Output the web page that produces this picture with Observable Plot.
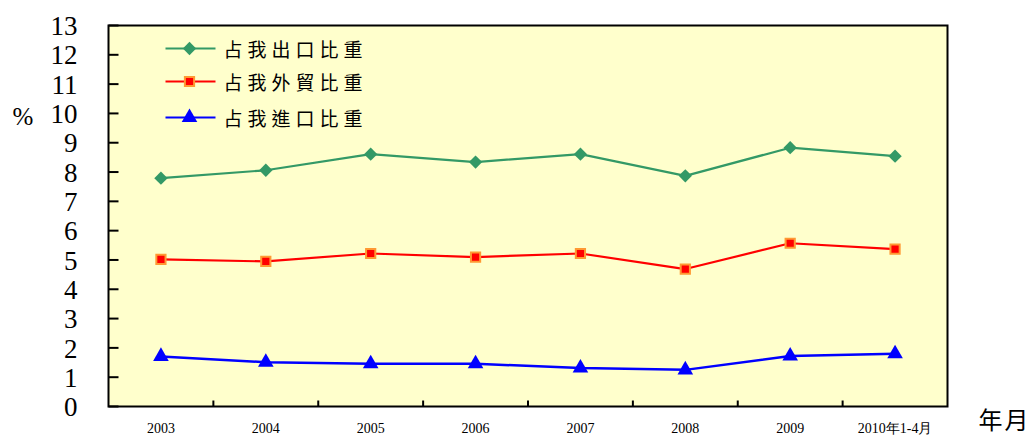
<!DOCTYPE html>
<html><head><meta charset="utf-8">
<script src="https://cdn.jsdelivr.net/npm/d3@7"></script>
<script src="https://cdn.jsdelivr.net/npm/@observablehq/plot@0.6"></script>
<style>
body{margin:0;background:#fff;}
svg{display:block}
</style>
</head><body><div id="chart"></div>
<script>
const years = ["2003","2004","2005","2006","2007","2008","2009","2010年1-4月"];
const seriesNames = ["占我出口比重","占我外貿比重","占我進口比重"];
const exportShare = [7.79, 8.06, 8.61, 8.34, 8.61, 7.87, 8.83, 8.54];
const tradeShare  = [5.02, 4.95, 5.22, 5.10, 5.22, 4.69, 5.57, 5.37];
const importShare = [1.71, 1.51, 1.46, 1.46, 1.31, 1.25, 1.72, 1.80];
const yTicks = [0,1,2,3,4,5,6,7,8,9,10,11,12,13];
const yUnit = "%";
const xUnit = "年月";

const xIdx = years.map((d, i) => i);
const boundaries = xIdx.slice(1).map(i => i - 0.5);

const tickUp = {draw(ctx){ctx.moveTo(0,0); ctx.lineTo(0,-6);}};
const tickRight = {draw(ctx){ctx.moveTo(0,0); ctx.lineTo(10,0);}};
const legendLine = {draw(ctx){ctx.moveTo(-25,0); ctx.lineTo(25,0);}};

const series = [
  {name: seriesNames[0], values: exportShare, color: "#339966", symbol: "diamond2", r: 6, fill: "#339966", stroke: "none", sw: 0, lw: 2.2, row: 23},
  {name: seriesNames[1], values: tradeShare, color: "#FF0000", symbol: "square", r: 5.2, fill: "#FF0000", stroke: "#FF9933", sw: 2, lw: 2.2, row: 56},
  {name: seriesNames[2], values: importShare, color: "#0000FF", symbol: "triangle", r: 5.8, fill: "#0000FF", stroke: "none", sw: 0, lw: 2.5, row: 92}
];

const serif = "'Liberation Serif', 'Times New Roman', serif";
const cjk = "'Noto Sans CJK TC', 'Noto Sans CJK SC', sans-serif";

const marks = [Plot.frame({fill: "#FFFFCC"})];
for (const s of series) {
  marks.push(Plot.line(xIdx, {x: i => i, y: i => s.values[i], stroke: s.color, strokeWidth: s.lw}));
  marks.push(Plot.dot(xIdx, {x: i => i, y: i => s.values[i], symbol: s.symbol, r: s.r, fill: s.fill, stroke: s.stroke, strokeWidth: s.sw}));
  marks.push(Plot.dot([s.name], {frameAnchor: "top-left", dx: 82, dy: s.row, symbol: legendLine, fill: "none", stroke: s.color, strokeWidth: 2}));
  marks.push(Plot.dot([s.name], {frameAnchor: "top-left", dx: 81, dy: s.row, symbol: s.symbol, r: s.r, fill: s.fill, stroke: s.stroke, strokeWidth: s.sw}));
  marks.push(Plot.text([s.name], {frameAnchor: "top-left", dx: 115, dy: s.row + 2, text: d => d, textAnchor: "start", lineAnchor: "middle", fontSize: 19, fontFamily: cjk, fill: "black"}));
}
marks.push(
  Plot.dot(boundaries, {x: d => d, frameAnchor: "bottom", symbol: tickUp, fill: "none", stroke: "black", strokeWidth: 2}),
  Plot.dot(yTicks, {y: d => d, frameAnchor: "left", symbol: tickRight, fill: "none", stroke: "black", strokeWidth: 2}),
  Plot.axisX(xIdx, {tickFormat: i => years[i], tickSize: 0, tickPadding: 17, fontSize: 14, fontFamily: serif, fill: "black"}),
  Plot.axisY(yTicks, {tickSize: 0, tickPadding: 31, fontSize: 27, dy: 1, fontFamily: serif, fill: "black"}),
  Plot.text([yUnit], {frameAnchor: "top-left", dx: -96, dy: 91, text: d => d, textAnchor: "start", lineAnchor: "middle", fontSize: 25, fontFamily: serif, fill: "black"}),
  Plot.text([xUnit], {frameAnchor: "bottom-right", dx: 31, dy: 15, text: d => d, textAnchor: "start", lineAnchor: "middle", fontSize: 24, fontFamily: cjk, fill: "black"}),
  Plot.frame({stroke: "black", strokeWidth: 2})
);

const chart = Plot.plot({
  width: 1031,
  height: 436,
  marginLeft: 108,
  marginRight: 84,
  marginTop: 25,
  marginBottom: 30,
  x: {type: "linear", domain: [-0.5, years.length - 0.5]},
  y: {domain: [0, 13]},
  style: {background: "white", overflow: "visible", fontFamily: serif},
  marks
});
// text styling that Plot marks do not expose as options
d3.select(chart).selectAll("text").each(function() {
  const t = this.textContent;
  const sel = d3.select(this);
  if (seriesNames.includes(t)) sel.style("letter-spacing", "5px").style("font-family", cjk);
  else if (t === xUnit) sel.style("letter-spacing", "2px").style("font-family", cjk);
  else sel.style("font-family", serif);
});
document.getElementById("chart").append(chart);
</script>
</body></html>
